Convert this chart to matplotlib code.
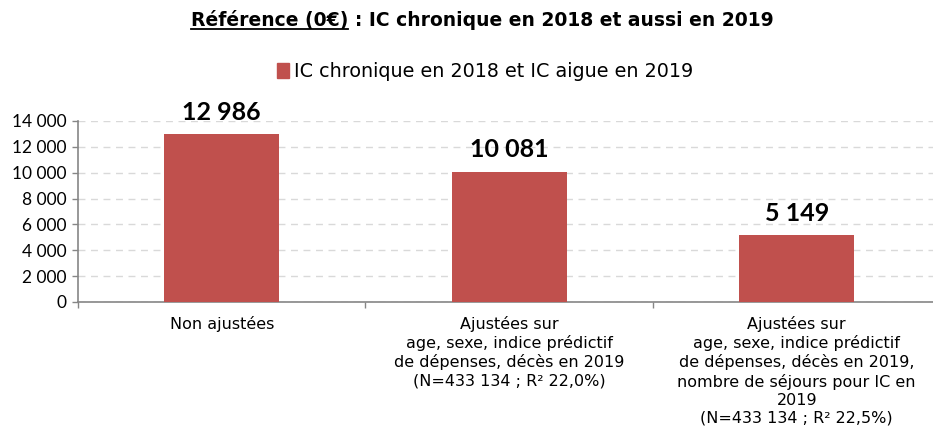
import matplotlib
matplotlib.use("Agg")
from matplotlib import pyplot as plt
from matplotlib.ticker import FuncFormatter, FixedLocator
import numpy as np

categories = [
    "Non ajustées",
    "Ajustées sur\nage, sexe, indice prédictif\nde dépenses, décès en 2019\n(N=433 134 ; R² 22,0%)",
    "Ajustées sur\nage, sexe, indice prédictif\nde dépenses, décès en 2019,\nnombre de séjours pour IC en\n2019\n(N=433 134 ; R² 22,5%)",
]
values = [12986, 10081, 5149]
series_name = "IC chronique en 2018 et IC aigue en 2019"
y_ticks = [0, 2000, 4000, 6000, 8000, 10000, 12000, 14000]
title_lead = "Référence (0€)"
title_rest = " : IC chronique en 2018 et aussi en 2019"

BAR_COLOR = "#C0504D"
AXIS_COLOR = "#868686"
GRID_COLOR = "#D9D9D9"


def spaced(v):
    return f"{int(v):,}".replace(",", " ")


fig = plt.figure(figsize=(9.33, 4.28), dpi=100)
ax = fig.add_axes([0.0836, 0.2944, 0.9244, 0.4229])

x = np.arange(len(values)) + 0.5
ax.bar(x, values, width=0.4, color=BAR_COLOR, zorder=3)

ax.set_xlim(0, len(values))
ax.set_ylim(0, 14000)

ax.yaxis.set_major_locator(FixedLocator(y_ticks))
ax.yaxis.set_major_formatter(FuncFormatter(lambda v, _: spaced(v)))
ax.tick_params(axis="y", length=4, width=1, color=AXIS_COLOR, pad=4,
               labelsize=12.5, labelfontfamily="Lato")
ax.grid(axis="y", color=GRID_COLOR, linestyle=(0, (5, 4)), linewidth=1, zorder=0)

# ticks between categories, labels centred under each bar
ax.set_xticks(np.arange(len(values) + 1))
ax.set_xticklabels([])
ax.set_xticks(x, minor=True)
ax.set_xticklabels(categories, minor=True, fontsize=11.5, family="DejaVu Sans",
                   linespacing=1.25, va="top")
ax.tick_params(axis="x", which="major", length=4, width=1, color=AXIS_COLOR)
ax.tick_params(axis="x", which="minor", length=0, pad=10)

for side in ("top", "right"):
    ax.spines[side].set_visible(False)
for side in ("left", "bottom"):
    ax.spines[side].set_color(AXIS_COLOR)
    ax.spines[side].set_linewidth(1.2)

for xi, v in zip(x, values):
    ax.text(xi, v + 800, spaced(v), ha="center", va="bottom",
            fontsize=18, fontweight="bold", family="Lato", zorder=4)

# title, with the lead-in underlined
title = fig.text(0.517, 0.953, title_lead + title_rest, fontsize=13.5,
                 fontweight="bold", family="DejaVu Sans", ha="center", va="center")
fig.canvas.draw()
renderer = fig.canvas.get_renderer()
full = title.get_window_extent(renderer)
probe = fig.text(0, 0, title_lead, fontsize=13.5, fontweight="bold",
                 family="DejaVu Sans")
lead_w = probe.get_window_extent(renderer).width
probe.remove()
W, H = fig.bbox.width, fig.bbox.height
fig.add_artist(plt.Line2D([full.x0 / W, (full.x0 + lead_w) / W],
                          [(full.y0 + 1) / H] * 2, color="black", linewidth=1.3))

handle = plt.Rectangle((0, 0), 1, 1, color=BAR_COLOR)
fig.legend([handle], [series_name], loc="center", bbox_to_anchor=(0.52, 0.832),
           frameon=False, handlelength=0.6, handleheight=0.8,
           handletextpad=0.25, prop={"family": "DejaVu Sans", "size": 13.8})

fig.savefig("out.png", dpi=100)
